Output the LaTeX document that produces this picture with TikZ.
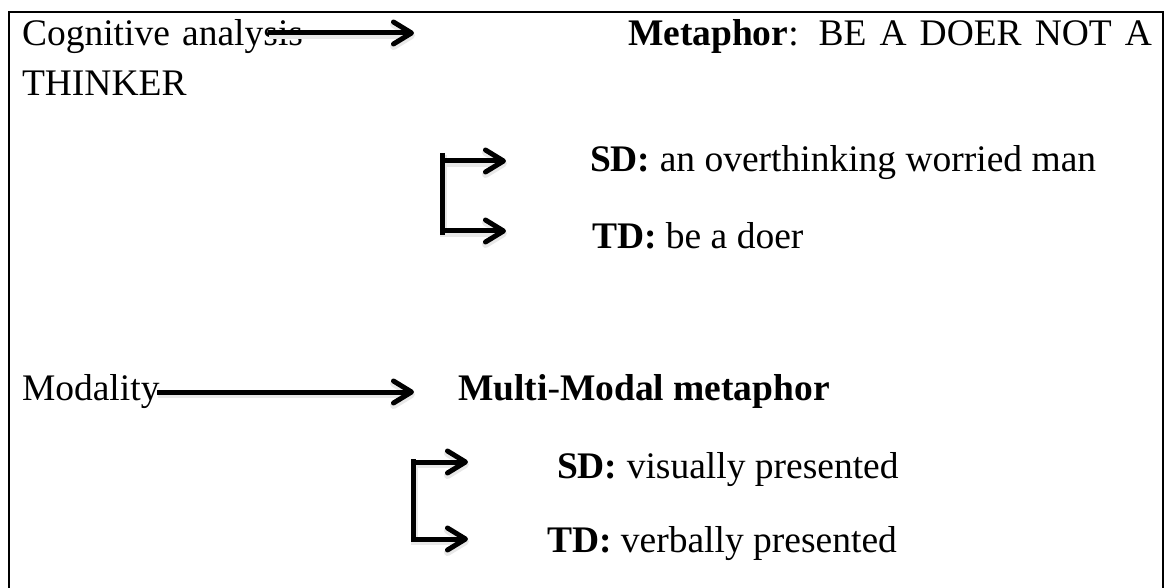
\documentclass[tikz,border=0pt]{standalone}
\usepackage{fontspec}
\setmainfont{Liberation Serif}
\usetikzlibrary{arrows.meta}
\tikzset{
  txt/.style={anchor=base west, inner sep=0pt, outer sep=0pt, font=\fontsize{37.5}{45}\selectfont},
  arr/.style={line width=5pt, -{Straight Barb[length=18pt, width=22pt, round]}},
  vline/.style={line width=5pt},
  shad/.style={draw=black!9, line width=7pt, transform canvas={shift={(1pt,-2.5pt)}}},
  frame/.style={line width=2.5pt}
}
\begin{document}
\begin{tikzpicture}[x=1pt,y=-1pt]
\useasboundingbox (0,0) rectangle (1170,588);
\draw[frame] (9,590) -- (9,12) -- (1163,12) -- (1163,590);
% top section
\node[txt] (cog) at (22,46) {\makebox[281pt][s]{Cognitive analysis}};
\node[txt] (meta) at (628,46) {\makebox[524pt][s]{\textbf{Metaphor}: BE A DOER NOT A}};
\node[txt] (thk) at (22,96) {THINKER};
\coordinate (a1s) at (268,33);
\coordinate (a1e) at (414,33);
\draw[arr,shad] (a1s) -- (a1e);
\draw[arr] (a1s) -- (a1e);
\node[txt] (sd1) at (590,172) {\textbf{SD:} an overthinking worried man};
\node[txt] (td1) at (592,248) {\textbf{TD:} be a doer};
\coordinate (v1t) at (442,153);
\coordinate (v1b) at (442,235);
\coordinate (b1t) at (442,161);
\coordinate (b1b) at (442,231);
\coordinate (b1te) at (506,161);
\coordinate (b1be) at (506,231);
\draw[vline,shad] (v1t) -- (v1b);
\draw[arr,shad] (b1t) -- (b1te);
\draw[arr,shad] (b1b) -- (b1be);
\draw[vline] (v1t) -- (v1b);
\draw[arr] (b1t) -- (b1te);
\draw[arr] (b1b) -- (b1be);
% bottom section
\node[txt] (mod) at (22,400) {Modality};
\node[txt] (mm) at (458,400) {\textbf{Multi}-\textbf{Modal metaphor}};
\coordinate (a2s) at (157,392);
\coordinate (a2e) at (414,392);
\draw[arr,shad] (a2s) -- (a2e);
\draw[arr] (a2s) -- (a2e);
\node[txt] (sd2) at (557,478) {\textbf{SD:} visually presented};
\node[txt] (td2) at (547,552) {\textbf{TD:} verbally presented};
\coordinate (v2t) at (413,459);
\coordinate (v2b) at (413,542);
\coordinate (b2t) at (413,462);
\coordinate (b2b) at (413,539);
\coordinate (b2te) at (468,462);
\coordinate (b2be) at (468,539);
\draw[vline,shad] (v2t) -- (v2b);
\draw[arr,shad] (b2t) -- (b2te);
\draw[arr,shad] (b2b) -- (b2be);
\draw[vline] (v2t) -- (v2b);
\draw[arr] (b2t) -- (b2te);
\draw[arr] (b2b) -- (b2be);
\end{tikzpicture}
\end{document}
